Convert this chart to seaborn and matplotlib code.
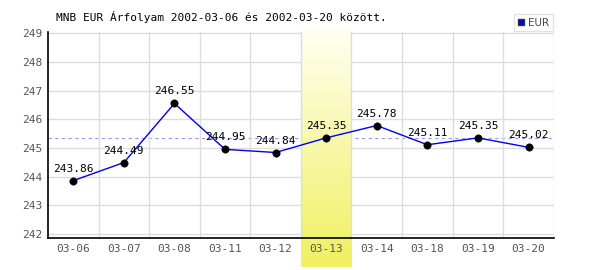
import numpy as np
import pandas as pd
import matplotlib
matplotlib.use("Agg")
import matplotlib.pyplot as plt
import seaborn as sns
from matplotlib.colors import LinearSegmentedColormap
from matplotlib.lines import Line2D

dates = ["03-06", "03-07", "03-08", "03-11", "03-12", "03-13", "03-14", "03-18", "03-19", "03-20"]
values = [243.86, 244.49, 246.55, 244.95, 244.84, 245.35, 245.78, 245.11, 245.35, 245.02]
highlight_date = "03-13"
ref_value = 245.35
title = "MNB EUR Árfolyam 2002-03-06 és 2002-03-20 között."
series_name = "EUR"
yticks = [242, 243, 244, 245, 246, 247, 248, 249]

sns.set_theme(style="white")
plt.rcParams['font.family'] = ['DejaVu Sans Mono', 'DejaVu Sans']

df = pd.DataFrame({"pos": np.arange(len(dates)), "date": dates, "value": values})

fig = plt.figure(figsize=(6, 2.7), dpi=100)
ax = fig.add_axes([0.08, 0.1185, 0.843, 0.763])
ax.set_axisbelow(False)

ylo, yhi = 241.86, 249.04
xlo, xhi = -0.5, len(dates) - 0.5

# highlight gradient band
hi = dates.index(highlight_date)
cmap = LinearSegmentedColormap.from_list("band", [(0.94, 0.94, 0.38), (0.97, 0.97, 0.66), (1.0, 1.0, 0.95)])
grad = np.linspace(0, 1, 256).reshape(-1, 1)
px = (yhi - ylo) / 206.0
ax.imshow(grad, extent=[hi - 0.5, hi + 0.5, ylo - 29 * px, yhi + 3 * px],
          origin="lower", aspect="auto", cmap=cmap, clip_on=False, zorder=1.5)

# grid
for y in yticks:
    ax.axhline(y, color="#dddddd", lw=1, zorder=1)
for i in range(1, len(dates) + 1):
    ax.axvline(i - 0.5, color="#dddddd", lw=1, zorder=1.6)

ax.axhline(ref_value, color="#9999ee", lw=0.8, ls=(0, (3, 3)), zorder=1.2)

sns.lineplot(data=df, x="pos", y="value", color="#0000ee", lw=1, ax=ax, zorder=3, legend=False)
sns.scatterplot(data=df, x="pos", y="value", color="black", s=28, edgecolor="black", ax=ax, zorder=4, legend=False)

for p, v in zip(df["pos"], df["value"]):
    ax.annotate(f"{v:.2f}", (p, v), xytext=(0, 5), textcoords="offset points",
                ha="center", va="bottom", fontsize=8, color="black", zorder=5)

ax.set_xlim(xlo, xhi)
ax.set_ylim(ylo, yhi)
ax.set_xticks(df["pos"])
ax.set_xticklabels(dates)
ax.set_yticks(yticks)
ax.tick_params(axis="both", labelsize=8, colors="#555555", length=0, pad=4)
ax.xaxis.set_zorder(7)
ax.yaxis.set_zorder(7)
ax.set_xlabel("")
ax.set_ylabel("")
for s in ["top", "right"]:
    ax.spines[s].set_visible(False)
for s in ["left", "bottom"]:
    ax.spines[s].set_color("black")
    ax.spines[s].set_linewidth(1.2)
    ax.spines[s].set_zorder(6)

fig.text(56 / 600, 1 - 17 / 270, title, fontsize=8, color="black", va="center", ha="left")

# legend
h = [Line2D([0], [0], marker="s", color="none", markerfacecolor="#0000ee",
            markeredgecolor="#333333", markersize=5)]
leg = fig.legend(h, [series_name], loc="upper right", bbox_to_anchor=(553 / 600, 1 - 14 / 270),
                 fontsize=7.5, frameon=True, fancybox=False, handlelength=0.7, handletextpad=0.3,
                 borderpad=0.35, borderaxespad=0, labelcolor="#444444")
leg.get_frame().set_edgecolor("#dddddd")
leg.get_frame().set_linewidth(1)
for t in leg.get_texts():
    t.set_family("DejaVu Sans")

fig.savefig("out.png", dpi=100, facecolor="white")
